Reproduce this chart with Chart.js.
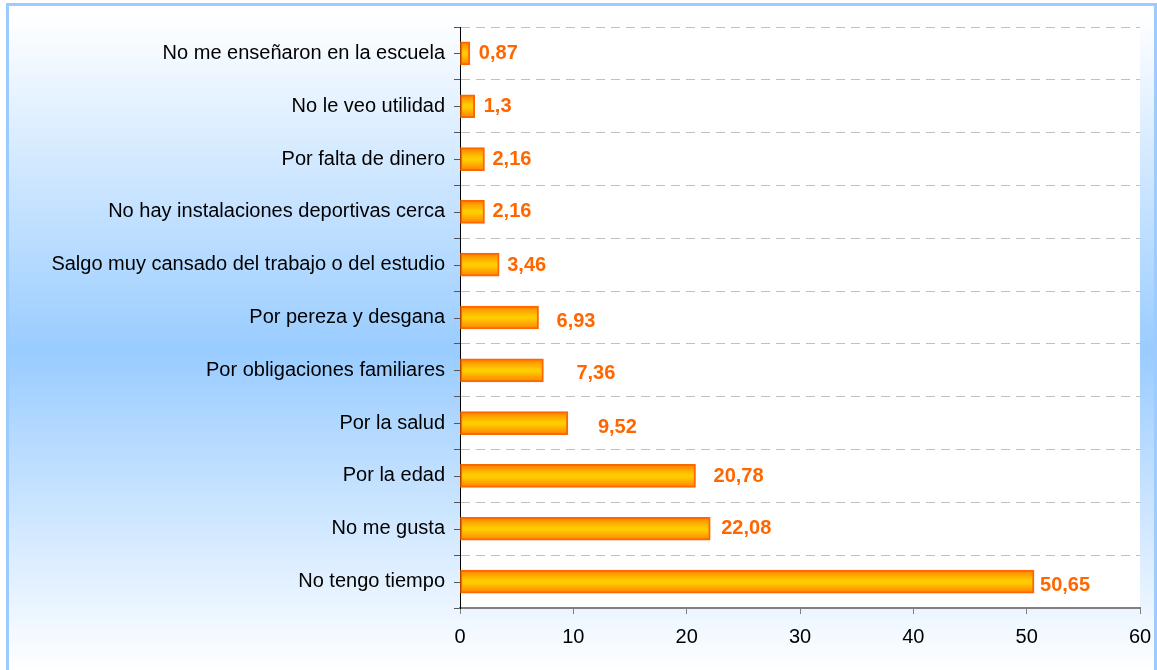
<!DOCTYPE html>
<html>
<head>
<meta charset="utf-8">
<script src="https://cdn.jsdelivr.net/npm/chart.js@4/dist/chart.umd.min.js"></script>
<style>
    html, body { margin: 0; padding: 0; background: #fff; width: 1157px; height: 670px; overflow: hidden; }
    #frame {
        position: absolute; left: 6px; top: 3px; width: 1145px; height: 700px;
        border: 3px solid #9ccbff; border-bottom: none;
        background: linear-gradient(to bottom, #ffffff 10px, #99ccff 345px, #ffffff 665px);
    }
    #chart { position: absolute; left: 0; top: 0; }
</style>
</head>
<body>
<div id="frame"></div>
<canvas id="chart" width="1157" height="670"></canvas>
<script>
const categories = [
    "No me enseñaron en la escuela",
    "No le veo utilidad",
    "Por falta de dinero",
    "No hay instalaciones deportivas cerca",
    "Salgo muy cansado del trabajo o del estudio",
    "Por pereza y desgana",
    "Por obligaciones familiares",
    "Por la salud",
    "Por la edad",
    "No me gusta",
    "No tengo tiempo"
];
const values = [0.87, 1.3, 2.16, 2.16, 3.46, 6.93, 7.36, 9.52, 20.78, 22.08, 50.65];
const valueLabels = ["0,87", "1,3", "2,16", "2,16", "3,46", "6,93", "7,36", "9,52", "20,78", "22,08", "50,65"];
// little nudges of the value labels, like in the original sheet
const labelNudgeX = [9, 9, 8, 8, 8, 18, 33, 30, 18, 11, 6];
const labelNudgeY = [0, 0, 0, 0, 1, 4, 3, 4, 1, 0, 4];

const FONT = "'Liberation Sans', Arial, sans-serif";

const plotBackground = {
    id: 'plotBackground',
    beforeDraw(chart) {
        const a = chart.chartArea;
        const ctx = chart.ctx;
        ctx.save();
        ctx.fillStyle = '#ffffff';
        ctx.fillRect(a.left, a.top, a.right - a.left, a.bottom - a.top);
        ctx.restore();
    }
};

// small marks next to each category label (the boundary ticks come from the grid)
const centerTicks = {
    id: 'centerTicks',
    afterDraw(chart) {
        const y = chart.scales.y;
        const ctx = chart.ctx;
        ctx.save();
        ctx.strokeStyle = '#555';
        ctx.lineWidth = 1;
        y.ticks.forEach((t, i) => {
            const py = Math.round(y.getPixelForTick(i)) + 0.5;
            ctx.beginPath();
            ctx.moveTo(y.right - 6, py);
            ctx.lineTo(y.right, py);
            ctx.stroke();
        });
        ctx.restore();
    }
};

const valueLabelPlugin = {
    id: 'valueLabelPlugin',
    afterDatasetsDraw(chart) {
        const ctx = chart.ctx;
        const meta = chart.getDatasetMeta(0);
        ctx.save();
        ctx.font = "bold 20px " + FONT;
        ctx.fillStyle = '#ff6600';
        ctx.textAlign = 'left';
        ctx.textBaseline = 'middle';
        meta.data.forEach((bar, i) => {
            ctx.fillText(valueLabels[i], bar.x + labelNudgeX[i], bar.y + labelNudgeY[i]);
        });
        ctx.restore();
    }
};

function barFill(context) {
    const chart = context.chart;
    const yScale = chart.scales.y;
    if (!yScale || context.dataIndex == null) {
        return '#ffcc00';
    }
    const yc = yScale.getPixelForValue(context.dataIndex);
    if (!isFinite(yc)) {
        return '#ffcc00';
    }
    const g = chart.ctx.createLinearGradient(0, yc - 11.5, 0, yc + 11.5);
    g.addColorStop(0, '#ff8000');
    g.addColorStop(0.45, '#ffcc00');
    g.addColorStop(0.55, '#ffcc00');
    g.addColorStop(1, '#ff8000');
    return g;
}

new Chart(document.getElementById('chart').getContext('2d'), {
    type: 'bar',
    data: {
        labels: categories,
        datasets: [{
            data: values,
            backgroundColor: barFill,
            borderColor: '#ff6600',
            borderWidth: 2,
            borderSkipped: false,
            barThickness: 23
        }]
    },
    options: {
        indexAxis: 'y',
        responsive: false,
        animation: false,
        layout: { padding: { top: 27, right: 17, left: 0, bottom: 0 } },
        plugins: {
            legend: { display: false },
            tooltip: { enabled: false }
        },
        scales: {
            x: {
                min: 0,
                max: 60,
                afterFit(scale) {
                    scale.height = 62;
                    scale.paddingLeft = 0;
                    scale.paddingRight = 0;
                },
                ticks: {
                    stepSize: 10,
                    color: '#000',
                    padding: 11,
                    font: { family: FONT, size: 20 }
                },
                grid: {
                    drawOnChartArea: false,
                    drawTicks: true,
                    tickLength: 6,
                    color: '#808080'
                },
                border: { color: '#808080', width: 2 }
            },
            y: {
                afterFit(scale) {
                    scale.width = 460;
                    scale.paddingTop = 0;
                    scale.paddingBottom = 0;
                },
                ticks: {
                    color: '#000',
                    padding: 9,
                    font: { family: FONT, size: 20 }
                },
                grid: {
                    offset: true,
                    color: '#c0c0c0',
                    tickColor: '#555',
                    tickLength: 6
                },
                border: { color: '#000', width: 1, dash: [9, 6] }
            }
        }
    },
    plugins: [plotBackground, valueLabelPlugin, centerTicks]
});
</script>
</body>
</html>
